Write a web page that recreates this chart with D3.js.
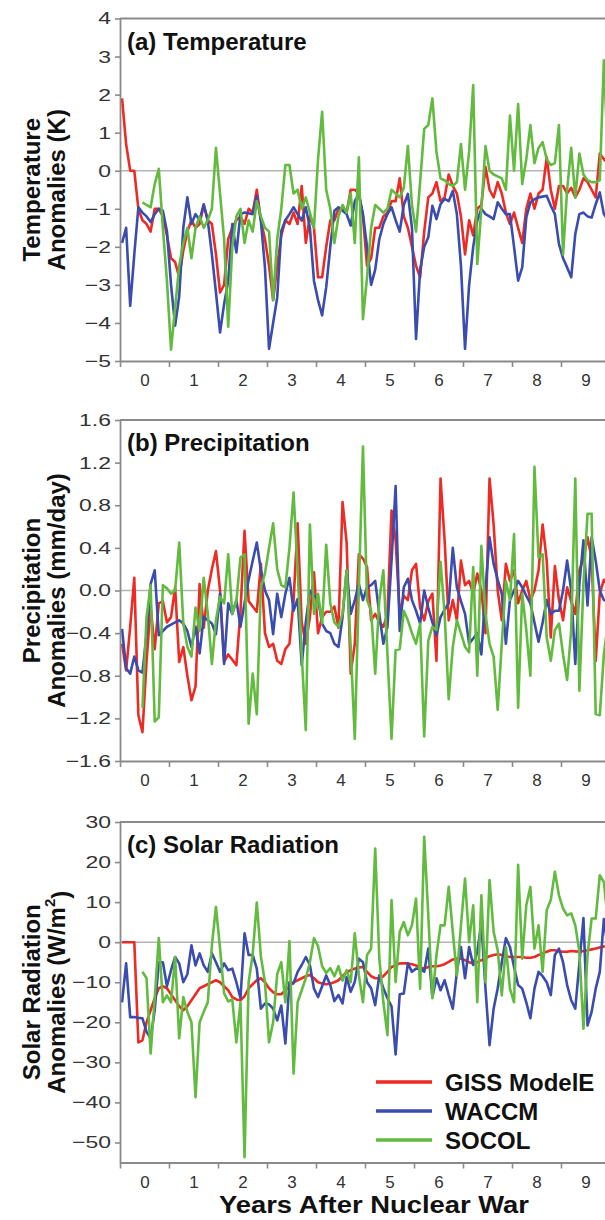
<!DOCTYPE html>
<html><head><meta charset="utf-8">
<script src="https://cdn.jsdelivr.net/npm/d3@7"></script>
<style>
body{margin:0;background:#fff;}
svg{display:block;font-family:"Liberation Sans",Arial,Helvetica,sans-serif;}
</style></head><body>
<svg id="chart" width="605" height="1220"></svg>
<script>
// ---------------- data (monthly values, 120 months = 10 years) ----------------
const yearLabels = ["0","1","2","3","4","5","6","7","8","9"];
const seriesNames = ["GISS ModelE","WACCM","SOCOL"];
const seriesColors = ["#ee2a24","#3a4cae","#62bb3e"];

const tempTicks = [-5,-4,-3,-2,-1,0,1,2,3,4];
const precipTicks = [-1.6,-1.2,-0.8,-0.4,0.0,0.4,0.8,1.2,1.6];
const solarTicks = [-50,-40,-30,-20,-10,0,10,20,30];

const tempGISS = [1.9,0.7,0.0,0.0,-1.0,-1.3,-1.4,-1.6,-1.0,-1.0,-1.2,-1.7,
 -2.3,-2.4,-2.8,-2.1,-1.6,-1.3,-1.5,-1.4,-0.9,-1.3,-1.4,-2.2,
 -3.2,-3.0,-1.8,-1.5,-1.3,-1.2,-1.4,-1.0,-1.1,-0.5,-1.3,-1.8,
 -2.5,-3.4,-2.5,-1.7,-1.3,-1.4,-1.1,-1.4,-0.4,-1.9,-1.2,-1.5,
 -2.8,-2.8,-2.0,-1.3,-1.3,-1.0,-1.0,-1.1,-0.5,-0.5,-0.6,-1.2,
 -2.5,-2.3,-1.5,-1.5,-1.2,-1.1,-0.8,-0.8,-0.2,-1.2,-1.5,-2.0,
 -2.5,-2.8,-1.6,-0.7,-0.6,-0.3,-0.8,-0.7,-0.1,-0.4,-0.6,-1.2,
 -2.2,-1.3,-1.7,-1.0,-0.9,0.1,-0.5,-0.7,-0.3,-0.6,-1.1,-1.4,
 -1.1,-1.5,-1.9,-1.0,-0.6,-1.0,-0.6,-0.5,0.35,-0.5,-1.0,-0.4,
 -0.4,-0.6,-0.45,-0.7,-0.5,-0.2,-0.3,-0.5,-0.7,0.45,0.3,0.2];
const tempWACCM = [-1.9,-1.5,-3.55,-2.2,-0.96,-1.1,-1.2,-1.35,-1.14,-1.0,-1.05,-1.6,
 -3.0,-4.07,-3.3,-1.5,-0.7,-1.4,-1.14,-1.3,-0.88,-1.31,-2.2,-3.2,
 -4.25,-3.5,-2.9,-1.4,-2.15,-1.14,-1.1,-1.12,-1.14,-0.66,-1.31,-2.54,
 -4.68,-4.0,-3.33,-1.58,-1.3,-1.14,-0.96,-1.14,-1.31,-0.96,-1.49,-2.89,
 -3.4,-3.8,-3.06,-2.0,-1.05,-0.96,-1.05,-1.14,-1.44,-0.8,-0.61,-1.14,
 -2.0,-3.0,-2.6,-1.8,-1.4,-1.14,-0.96,-1.3,-1.6,-0.9,-0.61,-1.5,
 -4.42,-2.6,-2.0,-1.75,-0.92,-1.27,-0.88,-0.74,-0.8,-0.53,-1.14,-2.5,
 -4.68,-3.0,-2.0,-1.31,-1.0,-1.14,-1.2,-1.27,-0.83,-1.0,-1.14,-1.14,
 -2.0,-2.89,-2.54,-1.23,-0.83,-0.75,-0.7,-0.68,-0.66,-0.92,-1.14,-1.93,
 -2.3,-2.54,-2.8,-1.66,-1.14,-1.1,-1.2,-1.23,-0.88,-0.57,-1.14,-1.3];
const tempSOCOL = [null,null,null,null,null,-0.83,-0.9,-0.96,-0.35,0.05,-1.5,-2.9,
 -4.7,-3.6,-2.5,-1.9,-1.5,-2.3,-1.5,-1.2,-1.5,-1.3,-1.0,0.6,
 -0.6,-1.8,-4.1,-2.0,-1.2,-1.0,-1.9,-1.3,-1.6,-0.8,-1.2,-1.5,
 -1.6,-3.4,-1.8,-1.0,0.15,0.15,-0.6,-0.5,-1.0,-0.7,-1.1,-1.5,
 0.3,1.55,-0.5,-1.0,-1.9,-1.2,-0.9,-1.1,-0.6,-1.9,0.35,-3.9,
 -2.8,-1.5,-0.9,-1.0,-1.1,-1.0,-0.5,-0.6,-0.7,-0.45,0.65,-0.9,
 -1.6,-0.3,1.1,1.2,1.9,0.5,-0.2,-0.25,-0.35,-0.4,-0.3,0.7,
 -0.5,0.5,2.25,-2.45,-1.0,0.65,0.0,-0.1,-0.15,-0.2,-0.5,1.45,
 0.0,1.75,-0.35,0.3,1.2,0.2,0.6,0.75,0.3,0.15,0.2,1.2,
 -2.2,-0.5,0.6,-0.7,0.45,-0.1,-0.25,-0.3,-0.3,-0.25,2.9,0.3];

const precipGISS = [-0.5,-0.75,-0.34,0.12,-1.17,-1.33,-0.66,-0.15,-0.55,-0.12,-0.1,-0.3,
 -0.25,0.03,-0.67,-0.53,-0.8,-1.03,-0.9,0.06,-0.35,0.0,0.2,0.37,
 0.0,-0.67,-0.6,-0.65,-0.7,-0.2,0.56,-0.1,-0.15,-0.2,0.25,-0.4,
 -0.53,-0.5,-0.66,-0.69,-0.55,-0.5,-0.1,0.63,-0.3,-0.5,-0.25,0.17,
 -0.4,-0.25,-0.2,-0.2,-0.15,-0.35,0.83,0.45,-0.78,-0.5,0.34,0.3,
 0.22,-0.28,-0.22,-0.3,-0.34,-0.22,0.75,0.47,-0.22,-0.05,-0.09,0.19,
 0.25,-0.16,-0.28,-0.1,-0.03,-0.66,1.05,0.47,-0.28,-0.09,-0.28,0.28,
 0.05,0.09,-0.03,0.16,0.0,-0.4,1.05,0.62,0.0,-0.28,0.25,0.09,
 0.19,-0.12,0.0,0.09,-0.09,0.0,0.19,0.62,0.28,-0.44,0.23,-0.09,
 -0.28,0.03,-0.1,-0.22,0.19,0.3,0.5,0.3,-0.66,-0.03,0.1,0.05];
const precipWACCM = [-0.36,-0.73,-0.78,-0.62,-0.75,-0.77,-0.41,0.06,0.19,-0.42,-0.38,-0.34,
 -0.32,-0.3,-0.28,-0.31,-0.38,-0.53,-0.34,-0.59,-0.25,-0.28,-0.31,-0.41,
 -0.03,-0.69,-0.12,-0.22,-0.09,-0.34,-0.12,0.1,0.28,0.45,0.19,0.0,
 -0.09,-0.41,-0.03,-0.25,-0.03,0.12,-0.19,-0.08,-0.7,-0.3,0.0,-0.05,
 -0.08,-0.31,-0.38,-0.4,-0.5,-0.53,-0.25,0.19,-0.22,-0.09,0.06,-0.09,
 0.03,0.05,0.09,-0.22,-0.5,-0.34,0.28,0.98,-0.38,0.03,0.11,-0.09,
 -0.19,-0.31,0.0,-0.16,-0.3,-0.42,-0.25,-0.18,-0.12,0.4,0.03,-0.1,
 -0.22,-0.5,-0.45,-0.4,-0.6,0.0,0.5,0.25,0.1,-0.03,-0.5,-0.09,
 0.0,0.09,0.03,-0.05,-0.12,-0.3,-0.48,-0.3,-0.09,-0.22,-0.19,-0.19,
 0.0,0.28,0.0,-0.69,0.06,0.47,-0.14,0.5,0.28,0.0,-0.09,-0.1];
const precipSOCOL = [null,null,null,null,null,-1.1,-0.25,0.05,-1.23,-1.19,0.05,0.02,
 -0.03,0.0,0.45,-0.31,-0.53,-0.62,-0.16,-0.38,0.12,-0.22,-0.69,-0.28,
 -0.06,-0.12,0.34,-0.22,-0.1,0.31,0.34,-1.25,-0.78,-1.16,0.03,0.16,
 0.4,0.63,0.2,0.05,0.03,0.4,0.92,0.19,-0.6,-1.31,0.62,-0.22,
 -0.03,-0.31,0.43,-0.12,-0.3,-0.34,-0.22,0.19,-0.53,-1.39,0.03,1.35,
 -0.09,-0.19,-0.78,-0.09,0.19,-0.6,-1.39,-0.56,-0.55,-0.19,-0.28,-0.4,
 -0.5,-0.31,-1.37,-0.47,-0.34,-0.37,0.27,-0.22,-1.02,-0.53,-0.28,-0.4,
 -0.53,-0.58,0.22,-0.8,0.42,-0.22,-0.5,-0.62,-1.12,-0.5,0.09,-0.09,
 0.53,-1.1,-0.03,-0.37,-0.8,1.16,0.31,0.34,-0.44,-0.66,-0.37,-0.31,
 -0.6,-0.84,-0.37,1.05,-0.94,0.06,0.72,0.72,-1.16,-1.17,-0.6,-0.3];

const solarGISS = [0,0,0,0,-25,-24.5,-20,-17,-14,-11.5,-11,-11.5,
 -13,-14.5,-16,-17,-16,-14.5,-13,-11.5,-11,-10.5,-10,-9.5,
 -10,-11,-12,-13.7,-14.3,-14.5,-13.5,-11.5,-10.5,-9.5,-9,-10,
 -11.5,-12.5,-13,-13,-12,-11,-10,-9.5,-9,-8.5,-8.2,-9,
 -10,-10.3,-10.5,-10.3,-10,-9.5,-8.5,-7.5,-7,-6.6,-6.3,-6.2,
 -7.4,-8.5,-9,-9,-8.5,-7.4,-6.2,-5.8,-5.3,-5.3,-5.3,-5.5,
 -5.8,-6.3,-6.6,-6.2,-6.0,-6.0,-5.8,-5.5,-4.9,-4.3,-4.1,-4.1,
 -4.5,-5.0,-5.3,-5.0,-4.5,-4.1,-3.5,-3.2,-3.0,-3.2,-3.5,-3.7,
 -3.7,-3.7,-3.7,-3.9,-3.9,-3.7,-3.2,-2.8,-2.4,-2.0,-2.0,-2.3,
 -2.4,-2.4,-2.2,-2.3,-2.4,-2.2,-2.0,-1.8,-1.6,-1.3,-1.1,-0.9];
const solarWACCM = [-15,-5.3,-18.7,-18.7,-18.9,-19,-22.4,-24,-17,-5,-5,-11,
 -7,-3.7,-5.3,-10,-8,-0.8,-5.8,-2.8,-5.8,-7.4,-2.8,-5,
 -7.4,-5.3,-7,-6.6,-10,-14,2.2,-3.2,-3.2,-6.6,-16.6,-15.3,
 -15.5,-16.6,-19.5,-15.8,-25.3,-10,-10.3,-7.4,-5.7,-3.7,-5.7,-11.6,
 -13.7,-11,-8.3,-10.7,-14.7,-13.2,-15.3,-8.7,-12.4,-9.9,-4.1,-5,
 -10,-11.5,-15.7,-8.3,-11.5,-14,-16,-28,-13,-12.8,-5.3,-7.4,
 -6.6,-6.6,-7.4,-1.6,-13.7,-9,-12,-9.5,-13.2,-16.6,-7.4,-1.2,
 -9,-1.2,-5.7,-2.4,4.7,-11.5,-25.7,-16.6,-11.5,-5,1,-1.2,
 -6.2,-10.7,-11.6,-15,-19,-11.6,-7.4,-8.5,-10,-13.2,-3.2,-1.6,
 -5,-10.7,-14.5,-16.6,-5.3,6,-20.8,-17.4,-11.6,-7.4,5.8,-2];
const solarSOCOL = [null,null,null,null,null,-7.4,-9,-27.8,-14,1,-15,-13.3,
 -15,-3.7,-24,-13.7,-17.4,-20,-38.7,-20,-17.4,-15,-0.8,8.8,
 -1.6,-12.8,-14.8,-14.3,-25,-15,-53.7,-10,-3,9.9,-3.5,-10,
 -25,-20,-8,-5,-15,0.3,-32.8,-15,-12,-9,-5,1,
 -1,-6,-7.7,-6.5,-8.5,-6,-9.6,-7,-10,2.2,-8.3,-15,
 -3.2,-1.6,23.4,-4,-15,-23.2,10.5,-10,2.6,5,1.7,4.2,
 10.9,-11.6,26.3,6.7,-14,-3.2,4.2,4.2,13.8,2.6,-8.3,4.2,
 15.9,0,9.2,-15,11.7,-10,15.5,2.6,-2,-13.3,-1.2,-11.6,
 -15,19.3,-4.1,9.2,13.8,-1.6,4.2,-7.4,8,10.5,17.6,11.7,
 8.4,6.7,7.2,4.2,-2.4,-21.6,-3.2,5.9,5.9,16.7,15,5];

// ---------------- layout ----------------
const svg = d3.select("#chart");
const X0 = 120, X1 = 610;
const x = d3.scaleLinear().domain([0, 120]).range([X0, X1]);
const AXIS = "#8a8a8a";
const TICK_SX = 1.35;

const panels = [
  {id:"a", title:"(a) Temperature", ylab:["Temperature","Anomalies (K)"],
   dom:[-5,4], top:18.5, bottom:361, ticks:tempTicks, fmt:d3.format("d"),
   series:[tempGISS,tempWACCM,tempSOCOL]},
  {id:"b", title:"(b) Precipitation", ylab:["Precipitation","Anomalies (mm/day)"],
   dom:[-1.6,1.6], top:420, bottom:761, ticks:precipTicks, fmt:d3.format(".1f"),
   series:[precipGISS,precipWACCM,precipSOCOL]},
  {id:"c", title:"(c) Solar Radiation", ylab:["Solar Radiation","Anomalies (W/m"],
   dom:[-55,30], top:822, bottom:1162.5, ticks:solarTicks, fmt:d3.format("d"),
   series:[solarGISS,solarWACCM,solarSOCOL]}
];

panels.forEach(p => {
  const y = d3.scaleLinear().domain(p.dom).range([p.bottom, p.top]);
  const g = svg.append("g");

  g.append("clipPath").attr("id","clip"+p.id)
    .append("rect").attr("x",X0).attr("y",p.top).attr("width",X1-X0).attr("height",p.bottom-p.top);

  // zero line
  g.append("line").attr("x1",X0).attr("x2",X1).attr("y1",y(0)).attr("y2",y(0))
    .attr("stroke","#b4b4b4").attr("stroke-width",1.6);

  // series
  const line = d3.line().defined(d => d !== null)
    .x((d,i) => x(i + 0.5)).y(d => y(d));
  const lg = g.append("g").attr("clip-path","url(#clip"+p.id+")");
  p.series.forEach((s,k) => {
    lg.append("path").datum(s).attr("d", line)
      .attr("fill","none").attr("stroke",seriesColors[k])
      .attr("stroke-width",2.6).attr("stroke-linejoin","round");
  });

  // frame top
  g.append("line").attr("x1",X0).attr("x2",X1).attr("y1",p.top).attr("y2",p.top)
    .attr("stroke",AXIS).attr("stroke-width",1.8);

  // y axis
  const ya = g.append("g").attr("transform",`translate(${X0},0)`)
    .call(d3.axisLeft(y).tickValues(p.ticks).tickFormat(p.fmt).tickSize(5).tickSizeOuter(0).tickPadding(4));
  // x axis: year boundary ticks
  const xa = g.append("g").attr("transform",`translate(0,${p.bottom})`)
    .call(d3.axisBottom(x).tickValues(d3.range(0,120,12)).tickFormat("").tickSize(6).tickSizeOuter(0));
  // x axis labels (mid-year)
  const xl = g.append("g").attr("transform",`translate(0,${p.bottom})`)
    .call(d3.axisBottom(x).tickValues(d3.range(6,120,12)).tickFormat((d,i)=>yearLabels[i]).tickSize(0).tickPadding(13));
  xl.select(".domain").remove();
  [ya,xa,xl].forEach(a => {
    a.select(".domain").attr("stroke",AXIS).attr("stroke-width",1.8);
    a.selectAll(".tick line").attr("stroke",AXIS).attr("stroke-width",1.6);
    a.selectAll(".tick text").attr("fill","#333").style("font-size","17px")
      .style("font-family","'Liberation Sans',Arial,sans-serif");
  });
  // y tick labels are drawn wider in the original figure
  ya.selectAll(".tick text").attr("x", -9 / TICK_SX).attr("transform", `scale(${TICK_SX},1)`);

  // panel title
  g.append("text").attr("x",127).attr("y",p.top+31).text(p.title)
    .style("font-size","24px").style("font-weight","bold").attr("fill","#111");

  // y axis title
  const cy = (p.top + p.bottom)/2;
  const t1 = g.append("text").attr("transform",`translate(31,${cy}) rotate(-90)`)
    .attr("text-anchor","middle").attr("dominant-baseline","central")
    .style("font-size","24px").style("font-weight","bold").attr("fill","#111").text(p.ylab[0]);
  const t2 = g.append("text").attr("transform",`translate(56,${cy}) rotate(-90)`)
    .attr("text-anchor","middle").attr("dominant-baseline","central")
    .style("font-size","24px").style("font-weight","bold").attr("fill","#111").text(p.ylab[1]);
  if (p.id === "c") {
    t2.append("tspan").attr("dy","-0.45em").style("font-size","15px").text("2");
    t2.append("tspan").attr("dy","0.45em").text(")");
  }
});

// legend
const legend = svg.append("g");
const legY = [1082, 1111, 1140];
seriesNames.forEach((n,k) => {
  legend.append("line").attr("x1",376).attr("x2",432).attr("y1",legY[k]).attr("y2",legY[k])
    .attr("stroke",seriesColors[k]).attr("stroke-width",3.4);
  legend.append("text").attr("x",445).attr("y",legY[k]).attr("dominant-baseline","central")
    .style("font-size","24px").style("font-weight","bold").attr("fill","#111").text(n);
});

// x axis title
svg.append("text").attr("x",374).attr("y",1213).attr("text-anchor","middle")
  .attr("textLength",310).attr("lengthAdjust","spacingAndGlyphs")
  .style("font-size","23px").style("font-weight","bold").attr("fill","#111")
  .text("Years After Nuclear War");
</script>
</body></html>
